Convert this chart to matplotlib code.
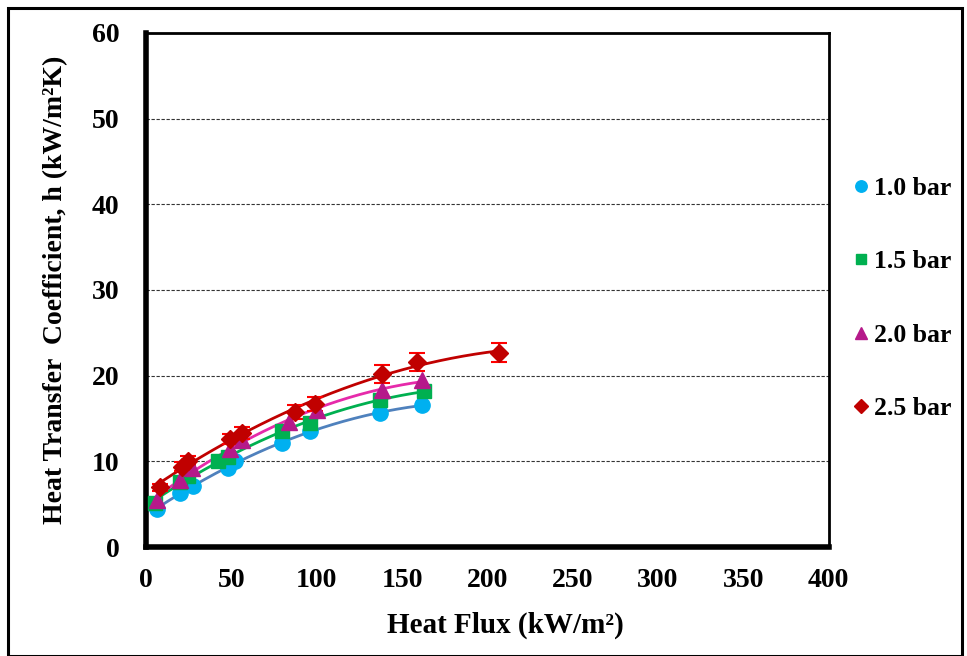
import matplotlib.pyplot as plt
import numpy as np
from matplotlib.patches import Rectangle

# heat flux (kW/m2) and heat transfer coefficient (kW/m2K) per pressure
q_10 = [6.3, 20.0, 27.8, 48.3, 52.2, 79.6, 96.2, 137.3, 161.8]
h_10 = [4.5, 6.3, 7.1, 9.2, 10.0, 12.2, 13.5, 15.6, 16.6]

q_15 = [5.3, 20.0, 24.8, 42.4, 48.3, 79.6, 96.2, 137.3, 162.7]
h_15 = [5.1, 7.6, 8.3, 10.0, 10.5, 13.5, 14.5, 17.2, 18.2]

q_20 = [6.3, 20.0, 26.8, 49.3, 56.2, 83.5, 100.2, 138.3, 161.8]
h_20 = [5.5, 7.8, 9.2, 11.5, 12.5, 14.6, 16.0, 18.3, 19.5]

q_25 = [8.2, 21.0, 24.8, 49.3, 56.2, 87.4, 99.2, 138.3, 158.8, 206.8]
h_25 = [7.0, 9.4, 10.1, 12.6, 13.3, 15.8, 16.7, 20.2, 21.6, 22.7]
err_25 = [0.4, 0.5, 0.5, 0.6, 0.7, 0.8, 0.8, 1.0, 1.1, 1.1]

labels = ['1.0 bar', '1.5 bar', '2.0 bar', '2.5 bar']

plt.rcParams['font.family'] = 'Liberation Serif'
plt.rcParams['font.weight'] = 'bold'

fig = plt.figure(figsize=(9.67, 6.56), dpi=100)
ax = fig.add_axes([0.151, 0.166, 0.706, 0.784])

# outer frame of the figure
fig.patches.append(Rectangle((8/967, 0), 954/967, 648/656, transform=fig.transFigure,
                             fill=False, ec='black', lw=2.2))

series = [
    (q_10, h_10, None, 'o', '#00B0F0', '#4F81BD', 11),
    (q_15, h_15, None, 's', '#00B050', '#00B050', 10.5),
    (q_20, h_20, None, '^', '#B5198A', '#E62AAA', 11),
    (q_25, h_25, err_25, 'D', '#C00000', '#C00000', 9.5),
]

handles = []
for (q, h, e, m, mc, lc, ms), lab in zip(series, labels):
    q = np.array(q)
    h = np.array(h)
    # quadratic trendline as in the spreadsheet
    c = np.polyfit(q, h, 2)
    qq = np.linspace(q.min(), q.max(), 200)
    ax.plot(qq, np.polyval(c, qq), color=lc, lw=2, zorder=2)
    if e is not None:
        ax.errorbar(q, h, yerr=e, fmt='none', ecolor='#FF0000', elinewidth=1.5,
                    capsize=6, capthick=1.5, zorder=3)
    ax.plot(q, h, ls='none', marker=m, color=mc, ms=ms, mec=mc, zorder=4)
    handles.append(plt.Line2D([], [], ls='none', marker=m, color=mc, ms=ms * 0.75, label=lab))

ax.set_xlim(0, 400)
ax.set_ylim(0, 60)
ax.set_xticks(np.arange(0, 401, 50))
ax.set_yticks(np.arange(0, 61, 10))
ax.tick_params(length=0, labelsize=20)
ax.tick_params(axis='x', pad=15)
ax.tick_params(axis='y', pad=19)
for t in ax.get_xticklabels() + ax.get_yticklabels():
    t.set_fontweight('bold')

for y in range(10, 60, 10):
    ax.axhline(y, color='#333333', ls=(0, (3, 1.5)), lw=0.8, zorder=1)

ax.spines['left'].set_linewidth(4)
ax.spines['bottom'].set_linewidth(4)
ax.spines['top'].set_linewidth(2)
ax.spines['right'].set_linewidth(2)

ax.set_xlabel('Heat Flux (kW/m²)', fontsize=21, fontweight='bold')
ax.xaxis.set_label_coords(0.527, -0.125)
ax.set_ylabel('Heat Transfer  Coefficient, h (kW/m²K)', fontsize=20, fontweight='bold')
ax.yaxis.set_label_coords(-0.114, 0.5)

leg = fig.legend(handles=handles, loc='center left', bbox_to_anchor=(0.859, 0.545),
                 frameon=False, handlelength=0.6, handletextpad=0.2,
                 labelspacing=1.95, prop={'weight': 'bold', 'size': 18.5})

fig.savefig('out.png', dpi=100)
